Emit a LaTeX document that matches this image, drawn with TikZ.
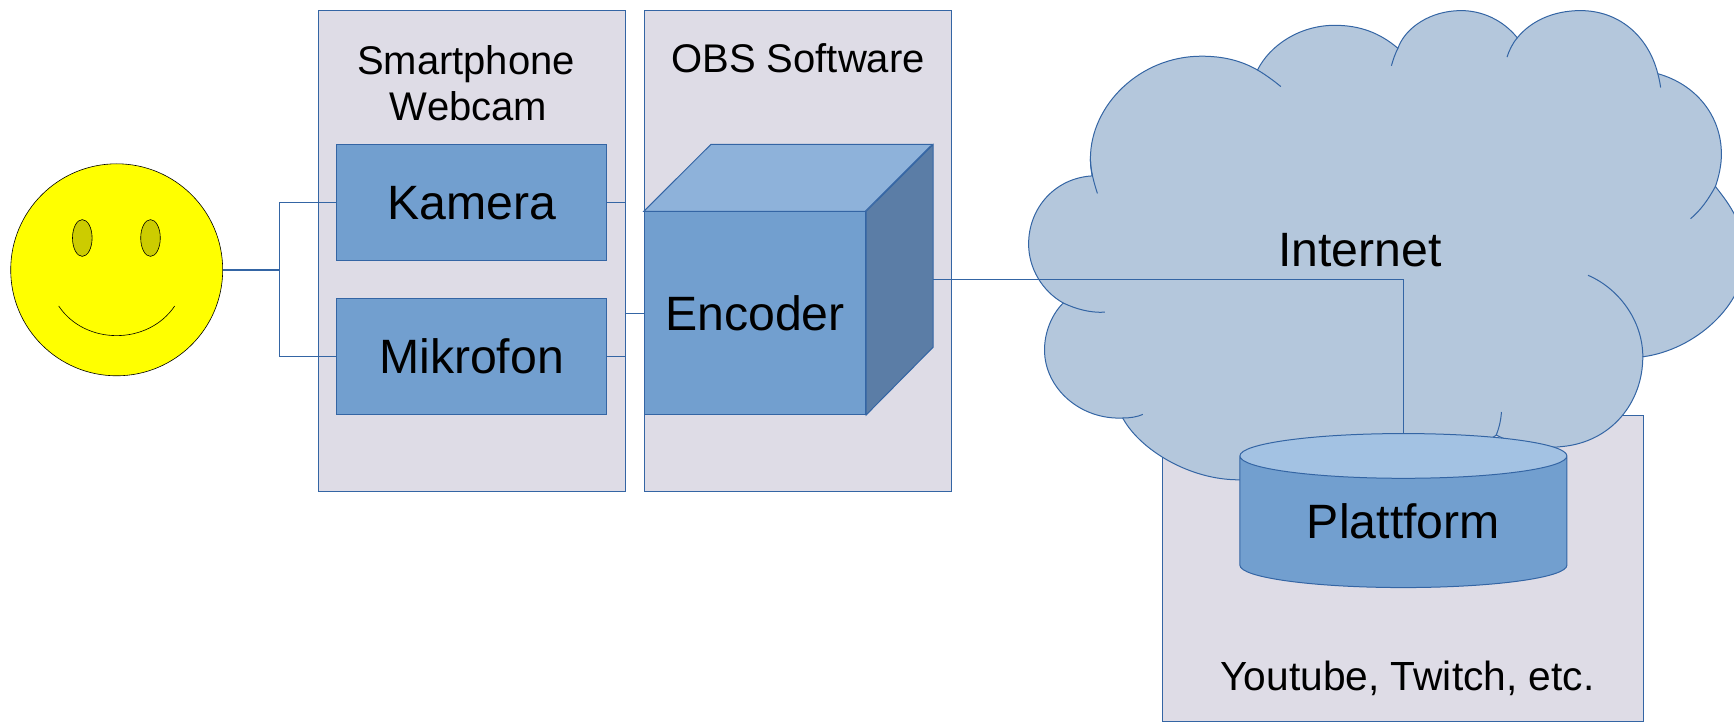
\documentclass[tikz,border=0pt]{standalone}
\usepackage{fontspec}
\setmainfont{Liberation Sans}
\usepackage{tikz}
\usetikzlibrary{shapes.geometric}
\definecolor{panelfill}{HTML}{DEDCE6}
\definecolor{blockfill}{HTML}{729FCF}
\definecolor{blockline}{HTML}{3465A4}
\definecolor{cloudfill}{HTML}{B4C7DC}
\definecolor{cubetop}{HTML}{8EB2DA}
\definecolor{cubeside}{HTML}{5B7DA6}
\definecolor{cylindertop}{HTML}{A3C2E3}
\definecolor{facefill}{HTML}{FFFF00}
\definecolor{eyefill}{HTML}{CCCC00}
\tikzset{
	bigtext/.style={font=\fontsize{48.2}{48}\selectfont},
	smalltext/.style={font=\fontsize{40}{46}\selectfont,align=center},
	panelbox/.style={draw=blockline,fill=panelfill,rectangle,inner sep=0pt},
	blockbox/.style={draw=blockline,fill=blockfill,rectangle,inner sep=0pt,minimum width=270,minimum height=116,bigtext},
	wire/.style={draw=blockline,line width=1pt},
	eye/.style={draw=black,fill=eyefill,ellipse,inner sep=0pt,minimum width=19.6,minimum height=36.8,line width=.6pt}
}
\begin{document}
\begin{tikzpicture}[x=1pt,y=-1pt,line width=1pt]
		\useasboundingbox (0,0) rectangle (1734,722);
		\node[panelbox,minimum width=307.5,minimum height=480.2](phone)at(472,250.9) {};
		\node[panelbox,minimum width=307.5,minimum height=480.2](obs)at(798,250.9) {};
		\node[panelbox,minimum width=480.5,minimum height=305.7](site)at(1402.8,568.2) {};
		
		% cloud
		\draw[blockline,fill=cloudfill] (1092.2,175.9)
			.. controls (1055,178) and (1028.6,208) .. (1028.6,244)
			.. controls (1028.6,268) and (1042,291) .. (1063.2,303)
			.. controls (1052,314) and (1044.5,332) .. (1044.5,349.9)
			.. controls (1044.5,388) and (1080,420) .. (1122.7,418)
			.. controls (1140,450) and (1190,480) .. (1238.8,479.8)
			.. controls (1340,480) and (1450,470) .. (1496.3,435)
			.. controls (1515,445) and (1540,449) .. (1561.8,446.6)
			.. controls (1612,442) and (1642.8,402) .. (1642.8,356.8)
			.. controls (1695,350) and (1745,305) .. (1745,258)
			.. controls (1745,225) and (1730,205) .. (1715.4,186.5)
			.. controls (1719,176) and (1721.4,165) .. (1721.4,154.2)
			.. controls (1721.4,115) and (1695,84) .. (1657.8,73.7)
			.. controls (1648,35) and (1618,10.6) .. (1580.5,10.6)
			.. controls (1552,10.6) and (1530,22) .. (1517.3,37.8)
			.. controls (1503,20) and (1482,10.6) .. (1461.1,10.6)
			.. controls (1430,10.6) and (1405,28) .. (1397.9,48.3)
			.. controls (1380,33) and (1360,25.3) .. (1334.7,25.3)
			.. controls (1300,25.3) and (1270,45) .. (1257.5,70)
			.. controls (1240,60) and (1222,56.2) .. (1201.3,56.2)
			.. controls (1140,56.2) and (1090.4,105) .. (1090.4,158.8)
			.. controls (1090.4,165) and (1091,170) .. (1092.2,175.9) -- cycle;
		% inner ends of the cloud
		\draw[blockline] (1063.2,303) .. controls (1076,309) and (1090,313) .. (1104.9,312.2);
		\draw[blockline] (1122.7,418) .. controls (1130,418) and (1137,417) .. (1142.8,414.4);
		\draw[blockline] (1496.3,435) .. controls (1499,428) and (1501,420) .. (1501.4,412);
		\draw[blockline] (1642.8,356.8) .. controls (1642.8,320) and (1618,288) .. (1588,275.3);
		\draw[blockline] (1715.4,186.5) .. controls (1708,200) and (1700,211) .. (1690.5,218.7);
		\draw[blockline] (1657.8,73.7) .. controls (1659,78) and (1660,83) .. (1660.6,87.5);
		\draw[blockline] (1517.3,37.8) .. controls (1512,44) and (1509,51) .. (1507,57.1);
		\draw[blockline] (1397.9,48.3) .. controls (1395,54) and (1393,60) .. (1391.4,65.8);
		\draw[blockline] (1257.5,70) .. controls (1266,75) and (1274,81) .. (1280.9,86.6);
		\draw[blockline] (1090.4,158.8) .. controls (1090.4,170) and (1094,183) .. (1097.4,193.4);
		
		\node[smalltext,anchor=base](phonetext)at(466,121) {Smartphone\\\hspace*{5pt}Webcam};
		\node[smalltext,anchor=base](obstext)at(798,73) {OBS Software};
		\node[bigtext,anchor=base](internet)at(1360,266) {Internet};
		\node[smalltext,anchor=base,font=\fontsize{40.7}{46}\selectfont](sitetext)at(1407.5,690) {Youtube, Twitch, etc.};
		
		\node[blockbox](kamera)at(471.6,202.8) {Kamera};
		\node[blockbox](mikrofon)at(471.6,356.4) {Mikrofon};
		\node[blockbox,minimum width=221.4,minimum height=202.6](encoder)at(755,313.1) {Encoder};
		\draw[blockline,fill=cubetop] (encoder.north west) -- ++(67,-66.8) -- ++(221.4,0) -- ++(-67,66.8) -- cycle;
		\draw[blockline,fill=cubeside] (encoder.north east) -- ++(67,-66.8) -- ++(0,202.6) -- (encoder.south east) -- cycle;
		
		\node[draw=blockline,cylinder,shape border rotate=90,shape aspect=.232,inner sep=0pt,minimum width=327,minimum height=154,
			cylinder uses custom fill,cylinder body fill=blockfill,cylinder end fill=cylindertop,bigtext](plattform)at(1403.4,522) {\raisebox{2pt}{Plattform}};
		
		\node[draw=black,fill=facefill,circle,inner sep=0pt,minimum size=212,line width=.6pt](smiley)at(116.7,269.8) {};
		\node[eye](lefteye)at(82.3,238) {};
		\node[eye](righteye)at(150.5,238) {};
		\coordinate(mouthleft)at(58.7,306);
		\coordinate(mouthright)at(174.7,306);
		\draw[black,line width=.6pt](mouthleft) .. controls (85,345.5) and (148,345.5) .. (mouthright);
		
		\coordinate(split)at(279.3,269.8);
		\coordinate(join)at(625.6,313.1);
		\coordinate(encoderout)at(933,279.5);
		\draw[wire,line width=1.6pt](smiley) -- (split);
		\draw[wire](split) |- (kamera.west);
		\draw[wire](split) |- (mikrofon.west);
		\draw[wire](kamera.east) -| (join);
		\draw[wire](mikrofon.east) -| (join);
		\draw[wire](join) -- (encoder.west);
		\draw[wire](encoderout) -| (plattform.north);
	\end{tikzpicture}
\end{document}
